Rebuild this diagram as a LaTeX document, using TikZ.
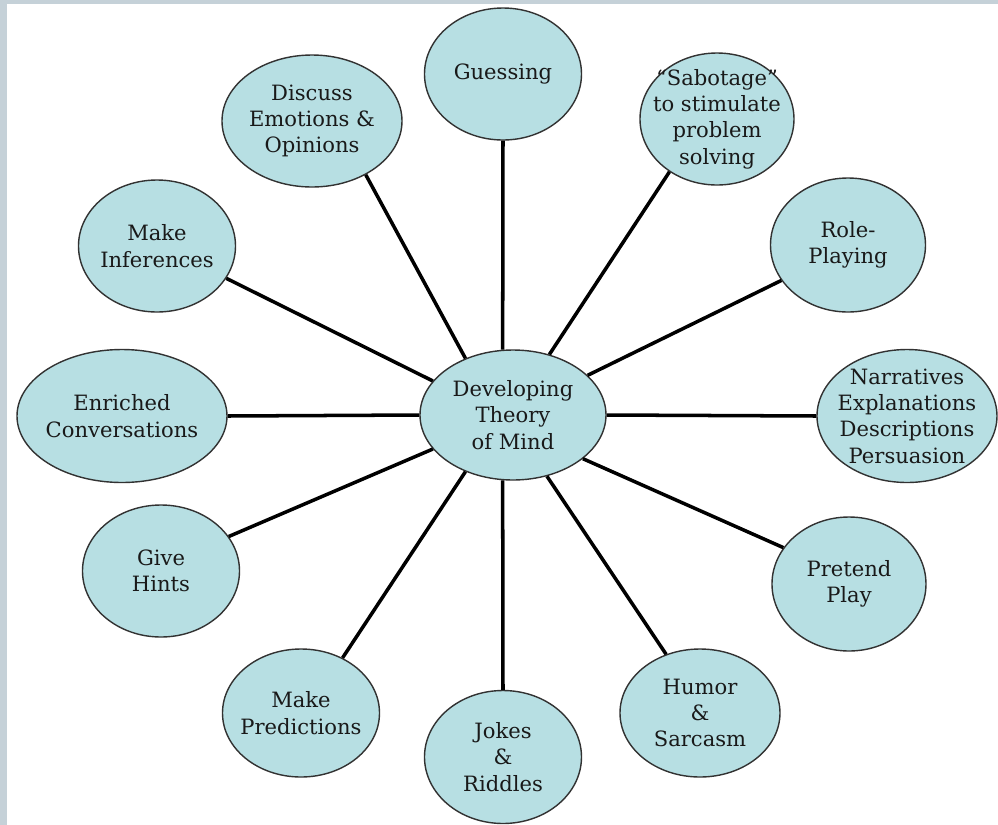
\documentclass[tikz,border=0pt]{standalone}
\usepackage{fontspec}
\setmainfont{DejaVu Serif}
\usetikzlibrary{shapes.geometric}

\definecolor{bubblefill}{RGB}{183,223,227}
\definecolor{bubbleline}{RGB}{50,50,50}
\definecolor{framegrey}{RGB}{197,209,216}

\begin{document}
\begin{tikzpicture}[
    bubble/.style={ellipse, draw=bubbleline, line width=0.8pt, fill=bubblefill, inner sep=0pt, minimum width=3.14cm, minimum height=2.64cm},
    bubbletext/.style={align=center, font=\fontsize{12}{15}\selectfont, text=black!90},
    spoke/.style={line width=2pt},
]

% Page frame
\useasboundingbox (0,0) rectangle (19.96,-16.5);
\fill[framegrey] (0,0) rectangle (19.96,-16.5);
\fill[white] (0.14,-0.08) rectangle (19.96,-16.5);

% Hub
\node[bubble, minimum width=3.72cm, minimum height=2.6cm, label={[bubbletext]center:{Developing\\Theory\\of Mind}}] (hub) at (10.26,-8.30) {};

% Outer ring, clockwise from the top
\node[bubble, label={[bubbletext]center:Guessing}] (guess) at (10.06,-1.48) {};
\node[bubble, minimum width=3.08cm, label={[bubbletext]center:{“Sabotage”\\to stimulate\\problem\\solving}}] (sabotage) at (14.34,-2.38) {};
\node[bubble, minimum width=3.10cm, minimum height=2.68cm, label={[bubbletext]center:{Role-\\Playing}}] (role) at (16.96,-4.90) {};
\node[bubble, minimum width=3.60cm, minimum height=2.66cm, label={[bubbletext]center:{Narratives\\Explanations\\Descriptions\\Persuasion}}] (narr) at (18.14,-8.32) {};
\node[bubble, minimum width=3.08cm, minimum height=2.68cm, label={[bubbletext]center:{Pretend\\Play}}] (pretend) at (16.98,-11.68) {};
\node[bubble, minimum width=3.20cm, minimum height=2.56cm, label={[bubbletext]center:{Humor\\\&\\Sarcasm}}] (humor) at (14.00,-14.26) {};
\node[bubble, minimum height=2.66cm, label={[bubbletext]center:{Jokes\\\&\\Riddles}}] (jokes) at (10.06,-15.14) {};
\node[bubble, minimum height=2.56cm, label={[bubbletext]center:{Make\\Predictions}}] (predict) at (6.02,-14.26) {};
\node[bubble, label={[bubbletext]center:{Give\\Hints}}] (hints) at (3.22,-11.42) {};
\node[bubble, minimum width=4.20cm, minimum height=2.66cm, label={[bubbletext]center:{Enriched\\Conversations}}] (enriched) at (2.44,-8.32) {};
\node[bubble, label={[bubbletext]center:{Make\\Inferences}}] (infer) at (3.14,-4.92) {};
\node[bubble, minimum width=3.60cm, label={[bubbletext]center:{Discuss\\Emotions \&\\Opinions}}] (discuss) at (6.24,-2.42) {};

% Spokes
\draw[spoke] (hub.99) -- (guess.270);
\draw[spoke] (hub.59) -- (sabotage.228);
\draw[spoke] (hub.28) -- (role.208);
\draw[spoke] (hub.0) -- (narr.180);
\draw[spoke] (hub.328) -- (pretend.151);
\draw[spoke] (hub.299) -- (humor.120);
\draw[spoke] (hub.261) -- (jokes.90);
\draw[spoke] (hub.230) -- (predict.53);
\draw[spoke] (hub.203) -- (hints.27);
\draw[spoke] (hub.180) -- (enriched.0);
\draw[spoke] (hub.157) -- (infer.335);
\draw[spoke] (hub.130) -- (discuss.315);

\end{tikzpicture}
\end{document}
